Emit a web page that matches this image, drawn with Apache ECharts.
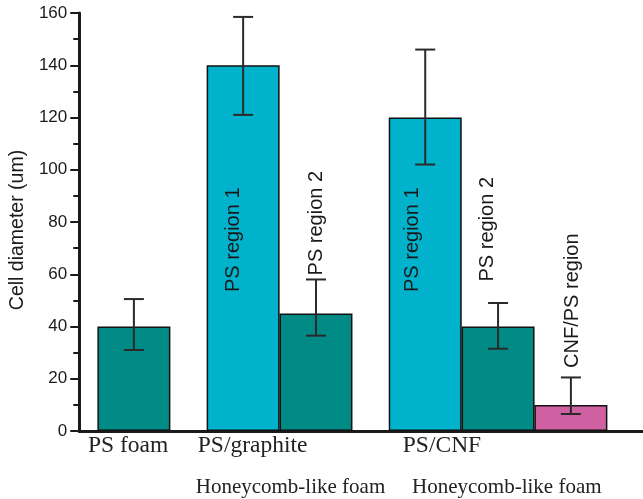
<!DOCTYPE html>
<html>
<head>
<meta charset="utf-8">
<script src="https://cdn.jsdelivr.net/npm/echarts@6/dist/echarts.min.js"></script>
<style>
html, body { margin: 0; padding: 0; background: #fff; }
#myChart { width: 643px; height: 499px; }
</style>
</head>
<body>
<div id="myChart"></div>
<script>
// bar data (x position on the axis, bar height, error bar ends)
var barPos = [1, 2.5, 3.5, 5, 6, 7];
var barValues = [40, 140, 45, 120, 40, 10];
var errLow = [31, 121, 36.5, 102, 31.5, 6.5];
var errHigh = [50.5, 158.5, 58, 146, 49, 20.5];
var barKind = ['foam', 'region1', 'region2', 'region1', 'region2', 'cnf'];
var barLabels = ['', 'PS region 1', 'PS region 2', 'PS region 1', 'PS region 2', 'CNF/PS region'];

// category texts under the axis
var groupNames = ['PS foam', 'PS/graphite', 'PS/CNF'];
var groupPos = [0.92, 2.63, 5.23];
var subNames = ['Honeycomb-like foam', 'Honeycomb-like foam'];
var subPos = [3.15, 6.12];

var colors = { foam: '#008a86', region1: '#00b2cc', region2: '#008a86', cnf: '#cf60a2' };
// label placement per bar
var labelPosition = ['top', 'insideBottom', 'top', 'insideBottom', 'top', 'top'];
var labelDistance = [0, 139, 38, 139, 45, 37];
var labelShiftX = [0, -10, 1, -13, -11, 2];   // negative = left

var myChart = echarts.init(document.getElementById('myChart'));

var barData = [];
for (var i = 0; i < barPos.length; i++) {
    var item = {
        value: [barPos[i], barValues[i]],
        itemStyle: { color: colors[barKind[i]] }
    };
    if (barLabels[i]) {
        item.label = {
            show: true,
            formatter: barLabels[i],
            position: labelPosition[i],
            distance: labelDistance[i],
            rotate: 90,
            align: 'left',
            verticalAlign: 'middle',
            // offset works in the rotated frame: y moves the text sideways
            offset: [0, labelShiftX[i]],
            fontFamily: 'Liberation Sans',
            fontSize: 20,
            color: '#1a1a1a'
        };
    }
    barData.push(item);
}

var errData = [];
for (var i = 0; i < barPos.length; i++) {
    errData.push([barPos[i], errLow[i], errHigh[i]]);
}

var option = {
    animation: false,
    grid: { left: 78, right: 0, top: 13, bottom: 68 },
    xAxis: {
        type: 'value',
        min: 0.25,
        max: 7.99,
        axisLine: { show: true, lineStyle: { color: '#1a1a1a', width: 3 } },
        axisTick: { show: false },
        axisLabel: { show: false },
        splitLine: { show: false }
    },
    yAxis: {
        type: 'value',
        min: 0,
        max: 160,
        interval: 20,
        name: 'Cell diameter (um)',
        nameLocation: 'middle',
        nameGap: 51,
        nameTextStyle: { fontFamily: 'Liberation Sans', fontSize: 19.5, color: '#1a1a1a', padding: [0, 16, 0, 0] },
        axisLine: { show: true, lineStyle: { color: '#1a1a1a', width: 3 } },
        axisTick: { show: true, inside: false, length: 9, lineStyle: { color: '#1a1a1a', width: 2 } },
        minorTick: { show: true, splitNumber: 2, length: 6, lineStyle: { color: '#1a1a1a', width: 2 } },
        axisLabel: { fontFamily: 'Liberation Sans', fontSize: 17, color: '#1a1a1a', margin: 12 },
        splitLine: { show: false }
    },
    series: [
        {
            type: 'bar',
            barWidth: 73,
            data: barData,
            itemStyle: { borderColor: '#111', borderWidth: 1.5 },
            z: 2
        },
        {
            type: 'custom',
            data: errData,
            z: 5,
            renderItem: function (params, api) {
                var lo = api.coord([api.value(0), api.value(1)]);
                var hi = api.coord([api.value(0), api.value(2)]);
                var half = 10;
                var style = { stroke: '#2a2a2a', lineWidth: 2 };
                return {
                    type: 'group',
                    children: [
                        { type: 'line', shape: { x1: lo[0], y1: lo[1], x2: hi[0], y2: hi[1] }, style: style },
                        { type: 'line', shape: { x1: hi[0] - half, y1: hi[1], x2: hi[0] + half, y2: hi[1] }, style: style },
                        { type: 'line', shape: { x1: lo[0] - half, y1: lo[1], x2: lo[0] + half, y2: lo[1] }, style: style }
                    ]
                };
            }
        }
    ]
};
myChart.setOption(option);

// texts under the x axis, placed from their axis positions
var texts = [];
for (var i = 0; i < groupNames.length; i++) {
    var p = myChart.convertToPixel({ gridIndex: 0 }, [groupPos[i], 0]);
    texts.push({
        type: 'text', x: p[0], y: 446,
        style: { text: groupNames[i], fontFamily: 'Liberation Serif', fontSize: 23.5, fill: '#222', align: 'center', verticalAlign: 'middle' }
    });
}
for (var i = 0; i < subNames.length; i++) {
    var p = myChart.convertToPixel({ gridIndex: 0 }, [subPos[i], 0]);
    texts.push({
        type: 'text', x: p[0], y: 487,
        style: { text: subNames[i], fontFamily: 'Liberation Serif', fontSize: 21, fill: '#222', align: 'center', verticalAlign: 'middle' }
    });
}
myChart.setOption({ graphic: texts });
</script>
</body>
</html>
